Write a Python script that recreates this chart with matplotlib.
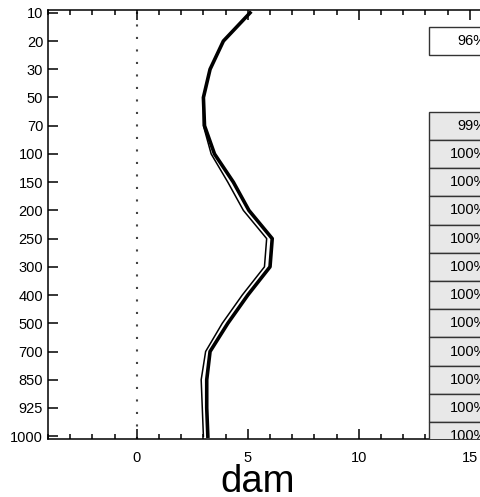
import matplotlib
matplotlib.use('Agg')
import matplotlib.pyplot as plt

plt.rcParams['font.family'] = ['Liberation Sans', 'DejaVu Sans']

# pressure levels (hPa), drawn equally spaced
levels = [10, 20, 30, 50, 70, 100, 150, 200, 250, 300, 400, 500, 700, 850, 925, 1000]
# profiles in dam
thick_vals = [5.1, 3.9, 3.3, 3.0, 3.05, 3.5, 4.35, 5.05, 6.1, 6.0, 5.0, 4.1, 3.3, 3.15, 3.15, 3.2]
thin_vals = [5.1, 3.9, 3.3, 3.0, 3.0, 3.35, 4.1, 4.8, 5.85, 5.75, 4.75, 3.85, 3.1, 2.9, 2.95, 3.0]
# percentage boxes on the right
pct_levels = [20, 70, 100, 150, 200, 250, 300, 400, 500, 700, 850, 925, 1000]
pct_text = ['96%', '99%', '100%', '100%', '100%', '100%', '100%', '100%',
            '100%', '100%', '100%', '100%', '100%']
pct_fill = ['white'] + ['#e8e8e8'] * 12

fig = plt.figure(figsize=(4.81, 4.97), dpi=100)
ax = fig.add_axes([48 / 481, 58 / 497, 444 / 481, 429 / 497])

idx = list(range(len(levels)))
pos = {lev: i for i, lev in enumerate(levels)}

ax.axvline(0, color='#444444', lw=1.5, linestyle=(0, (1, 5)), zorder=1)
ax.plot(thin_vals, idx, color='black', lw=1.1, zorder=3)
ax.plot(thick_vals, idx, color='black', lw=2.6, zorder=4)

ypos = [pos[l] for l in pct_levels]
ax.barh(ypos, 5, left=13.15, height=1, color=pct_fill, edgecolor='#333333',
        linewidth=1.0, zorder=5)
for y, t in zip(ypos, pct_text):
    ax.text(15.77, y, t, ha='right', va='center', fontsize=10.5, zorder=6,
            clip_on=True)

ax.set_xlim(-4, 16)
ax.set_ylim(15.1, -0.1)
ax.set_yticks(idx)
ax.set_yticklabels([str(l) for l in levels])
ax.set_xticks([0, 5, 10, 15])
ax.set_xticks(range(-4, 17), minor=True)
ax.tick_params(axis='both', which='major', direction='in', length=7, width=1.1,
               labelsize=10.5, top=True, right=False)
ax.tick_params(axis='x', which='minor', direction='in', length=3.5, width=1.1,
               top=True)
ax.tick_params(axis='x', pad=9)
for s in ax.spines.values():
    s.set_linewidth(1.1)

fig.text(0.535, 0.01, 'dam', ha='center', va='baseline', fontsize=27.5)

plt.savefig('out.png', dpi=100)
